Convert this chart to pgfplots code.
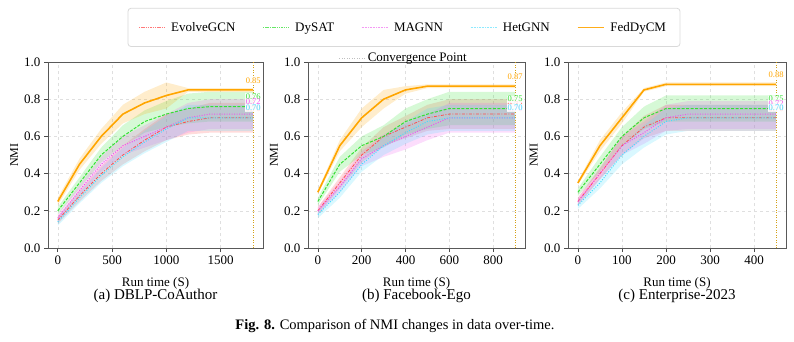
\documentclass[border=0pt]{standalone}
\usepackage{fontspec}
\setmainfont{Liberation Serif}
\usepackage{pgfplots}
\pgfplotsset{compat=1.18}
\usepackage{pgfplotstable}
\usepgfplotslibrary{fillbetween}

\definecolor{cEvo}{HTML}{FF4D4D}
\definecolor{cDys}{HTML}{33E033}
\definecolor{cMag}{HTML}{EE55EE}
\definecolor{cHet}{HTML}{44DDFF}
\definecolor{cFed}{HTML}{FFA500}
\definecolor{cConv}{HTML}{D4A017}

% ---------- Panel (a) ----------
\pgfplotstableread{
x y lo hi
0 0.15 0.13 0.17
200 0.28 0.25 0.31
400 0.40 0.36 0.44
600 0.50 0.45 0.55
800 0.58 0.52 0.64
1000 0.65 0.58 0.72
1200 0.68 0.61 0.75
1400 0.70 0.62 0.78
1600 0.70 0.62 0.78
1800 0.70 0.62 0.78
}\AEvo
\pgfplotstableread{
x y lo hi
0 0.20 0.18 0.22
200 0.35 0.32 0.38
400 0.50 0.46 0.54
600 0.60 0.55 0.66
800 0.68 0.62 0.74
1000 0.72 0.65 0.79
1200 0.75 0.67 0.83
1400 0.76 0.68 0.84
1600 0.76 0.68 0.84
1800 0.76 0.68 0.84
}\ADys
\pgfplotstableread{
x y lo hi
0 0.16 0.14 0.18
200 0.31 0.28 0.34
400 0.45 0.41 0.49
600 0.55 0.50 0.60
800 0.60 0.54 0.66
1000 0.65 0.58 0.72
1200 0.70 0.62 0.78
1400 0.72 0.64 0.80
1600 0.72 0.64 0.80
1800 0.72 0.64 0.80
}\AMag
\pgfplotstableread{
x y lo hi
0 0.14 0.12 0.16
200 0.27 0.24 0.30
400 0.39 0.35 0.43
600 0.49 0.44 0.54
800 0.57 0.51 0.63
1000 0.64 0.57 0.71
1200 0.70 0.63 0.77
1400 0.70 0.63 0.77
1600 0.70 0.63 0.77
1800 0.70 0.63 0.77
}\AHet
\pgfplotstableread{
x y lo hi
0 0.25 0.23 0.27
200 0.45 0.42 0.48
400 0.60 0.56 0.64
600 0.72 0.67 0.77
800 0.78 0.72 0.84
1000 0.82 0.75 0.89
1200 0.85 0.84 0.86
1400 0.85 0.84 0.86
1600 0.85 0.84 0.86
1800 0.85 0.84 0.86
}\AFed

% ---------- Panel (b) ----------
\pgfplotstableread{
x y lo hi
0 0.20 0.18 0.22
100 0.35 0.32 0.38
200 0.50 0.46 0.54
300 0.60 0.55 0.65
400 0.65 0.59 0.71
500 0.70 0.63 0.77
600 0.72 0.64 0.80
700 0.72 0.64 0.80
800 0.72 0.64 0.80
900 0.72 0.64 0.80
}\BEvo
\pgfplotstableread{
x y lo hi
0 0.25 0.23 0.27
100 0.45 0.41 0.49
200 0.55 0.50 0.60
300 0.60 0.54 0.66
400 0.68 0.61 0.75
500 0.72 0.64 0.80
600 0.75 0.66 0.84
700 0.75 0.66 0.84
800 0.75 0.66 0.84
900 0.75 0.66 0.84
}\BDys
\pgfplotstableread{
x y lo hi
0 0.20 0.18 0.22
100 0.33 0.30 0.36
200 0.48 0.44 0.52
300 0.55 0.49 0.61
400 0.60 0.53 0.67
500 0.65 0.58 0.72
600 0.70 0.62 0.78
700 0.70 0.62 0.78
800 0.70 0.62 0.78
900 0.70 0.62 0.78
}\BMag
\pgfplotstableread{
x y lo hi
0 0.18 0.16 0.20
100 0.30 0.27 0.33
200 0.45 0.41 0.49
300 0.55 0.50 0.60
400 0.62 0.56 0.68
500 0.68 0.61 0.75
600 0.70 0.63 0.77
700 0.70 0.63 0.77
800 0.70 0.63 0.77
900 0.70 0.63 0.77
}\BHet
\pgfplotstableread{
x y lo hi
0 0.30 0.29 0.31
100 0.55 0.52 0.58
200 0.70 0.65 0.75
300 0.80 0.75 0.85
400 0.85 0.83 0.87
500 0.87 0.86 0.88
600 0.87 0.86 0.88
700 0.87 0.86 0.88
800 0.87 0.86 0.88
900 0.87 0.86 0.88
}\BFed

% ---------- Panel (c) ----------
\pgfplotstableread{
x y lo hi
0 0.25 0.23 0.27
50 0.40 0.37 0.43
100 0.55 0.50 0.60
150 0.65 0.59 0.71
200 0.70 0.63 0.77
250 0.70 0.63 0.77
300 0.70 0.63 0.77
350 0.70 0.63 0.77
400 0.70 0.63 0.77
450 0.70 0.63 0.77
}\CEvo
\pgfplotstableread{
x y lo hi
0 0.30 0.28 0.32
50 0.45 0.41 0.49
100 0.60 0.55 0.65
150 0.70 0.64 0.76
200 0.75 0.68 0.82
250 0.75 0.68 0.82
300 0.75 0.68 0.82
350 0.75 0.68 0.82
400 0.75 0.68 0.82
450 0.75 0.68 0.82
}\CDys
\pgfplotstableread{
x y lo hi
0 0.25 0.23 0.27
50 0.40 0.37 0.43
100 0.55 0.50 0.60
150 0.62 0.56 0.68
200 0.70 0.63 0.77
250 0.72 0.64 0.79
300 0.72 0.64 0.79
350 0.72 0.64 0.79
400 0.72 0.64 0.79
450 0.72 0.64 0.79
}\CMag
\pgfplotstableread{
x y lo hi
0 0.23 0.21 0.25
50 0.35 0.32 0.38
100 0.50 0.45 0.55
150 0.60 0.54 0.66
200 0.68 0.61 0.75
250 0.70 0.63 0.77
300 0.70 0.63 0.77
350 0.70 0.63 0.77
400 0.70 0.63 0.77
450 0.70 0.63 0.77
}\CHet
\pgfplotstableread{
x y lo hi
0 0.35 0.34 0.36
50 0.55 0.52 0.58
100 0.70 0.67 0.73
150 0.85 0.84 0.86
200 0.88 0.87 0.89
250 0.88 0.87 0.89
300 0.88 0.87 0.89
350 0.88 0.87 0.89
400 0.88 0.87 0.89
450 0.88 0.87 0.89
}\CFed

\newcommand{\band}[2]{%
  \addplot[name path=bu, draw=none, forget plot] table[x=x,y=hi]{#1};
  \addplot[name path=bl, draw=none, forget plot] table[x=x,y=lo]{#1};
  \addplot[fill=#2, fill opacity=0.2, draw=none, forget plot] fill between[of=bu and bl];
}
\newcommand{\vlabel}[4]{% x, y, color, text
  \node[font=\fontsize{8.5}{10}\selectfont, text=#3, fill=white, fill opacity=0.8, text opacity=1, inner sep=0.6pt] at (axis cs:#1,#2) {#4};
}

\tikzset{
  lEvo/.style={draw=cEvo, line width=0.8pt, dash pattern=on 3pt off 1.5pt on 1pt off 1.5pt},
  lDys/.style={draw=cDys, line width=1pt, dash pattern=on 3pt off 1.5pt},
  lMag/.style={draw=cMag, line width=1pt, dash pattern=on 1pt off 1.5pt},
  lHet/.style={draw=cHet, line width=1pt, dash pattern=on 1pt off 1.5pt},
  lFed/.style={draw=cFed, line width=1.6pt},
  lConv/.style={draw=cConv, line width=0.8pt, dash pattern=on 1pt off 1.5pt},
}
% legend samples with the colour written into the code itself
\newcommand{\legimg}[1]{\addlegendimage{legend image code/.code={\draw[#1] (0pt,0pt) -- (26pt,0pt);}}}

\pgfplotsset{
  panel/.style={
    scale only axis, height=186pt, anchor=south west,
    ymin=0, ymax=1, ytick={0,0.2,0.4,0.6,0.8,1.0},
    yticklabel style={/pgf/number format/fixed, /pgf/number format/fixed zerofill, /pgf/number format/precision=1},
    xticklabel style={/pgf/number format/fixed, /pgf/number format/1000 sep={}},
    scaled x ticks=false,
    /pgf/number format/assume math mode=true,
    tick label style={font=\fontsize{13}{15}\selectfont},
    tick align=outside, tick pos=left, major tick length=4pt,
    axis line style={draw=black!65, line width=0.8pt},
    every tick/.style={black!70, line width=0.7pt},
    grid=major, grid style={dashed, gray!25, line width=0.5pt},
    xlabel={Run time (S)}, ylabel={NMI},
    xlabel style={at={(axis description cs:0.5,-0.19)}, anchor=center, font=\fontsize{13}{15}\selectfont},
    ylabel style={at={(axis description cs:-0.157,0.5)}, anchor=center, font=\fontsize{12}{14}\selectfont},
    title style={at={(axis description cs:0.5,-0.29)}, anchor=center, font=\fontsize{15}{17}\selectfont},
  },
}

\begin{document}
\begin{tikzpicture}

% (a)
\begin{axis}[panel, at={(48pt,93pt)}, width=215pt,
  xmin=-90, xmax=1890, xtick={0,500,1000,1500},
  title={(a) DBLP-CoAuthor},
  legend columns=5,
  legend style={at={(axis description cs:1.652,1.185)}, anchor=center,
    draw=none, fill=white,
    font=\fontsize{13}{15}\selectfont, inner xsep=11pt, inner ysep=12pt,
    /tikz/every even column/.append style={column sep=25pt},
    /tikz/every odd column/.append style={column sep=4pt}},
]
\legimg{draw=cEvo, draw opacity=0.75, line width=0.8pt, dash pattern=on 1.5pt off 0.8pt}
\addlegendentry{EvolveGCN}
\legimg{draw=cDys, draw opacity=0.75, line width=0.8pt, dash pattern=on 1.5pt off 0.8pt}
\addlegendentry{DySAT}
\legimg{draw=cMag, draw opacity=0.6, line width=0.8pt, dash pattern=on 0.8pt off 0.8pt}
\addlegendentry{MAGNN}
\legimg{draw=cHet, draw opacity=0.6, line width=0.8pt, dash pattern=on 0.8pt off 0.8pt}
\addlegendentry{HetGNN}
\legimg{draw=cFed, draw opacity=0.9, line width=1.5pt}
\addlegendentry{FedDyCM}
\band{\AEvo}{cEvo}
\addplot[lEvo] table[x=x,y=y]{\AEvo};
\band{\ADys}{cDys}
\addplot[lDys] table[x=x,y=y]{\ADys};
\band{\AMag}{cMag}
\addplot[lMag] table[x=x,y=y]{\AMag};
\band{\AHet}{cHet}
\addplot[lHet] table[x=x,y=y]{\AHet};
\band{\AFed}{cFed}
\addplot[lFed] table[x=x,y=y]{\AFed};
\addplot[lConv] coordinates {(1800,0) (1800,1)};
\vlabel{1800}{0.75}{cEvo}{0.70}
\vlabel{1800}{0.815}{cDys}{0.76}
\vlabel{1800}{0.785}{cMag}{0.72}
\vlabel{1800}{0.755}{cHet}{0.70}
\vlabel{1800}{0.90}{cFed}{0.85}
\end{axis}

% (b)
\begin{axis}[panel, at={(308pt,93pt)}, width=217pt,
  xmin=-45, xmax=945, xtick={0,200,400,600,800},
  title={(b) Facebook-Ego},
  legend style={at={(axis description cs:0.442,1.022)}, anchor=center,
    draw=none, fill=none, font=\fontsize{13}{15}\selectfont, inner sep=1pt},
]
\legimg{draw=gray!50, line width=0.8pt, dash pattern=on 1pt off 1.5pt}
\addlegendentry{Convergence Point}
\band{\BEvo}{cEvo}
\addplot[lEvo] table[x=x,y=y]{\BEvo};
\band{\BDys}{cDys}
\addplot[lDys] table[x=x,y=y]{\BDys};
\band{\BMag}{cMag}
\addplot[lMag] table[x=x,y=y]{\BMag};
\band{\BHet}{cHet}
\addplot[lHet] table[x=x,y=y]{\BHet};
\band{\BFed}{cFed}
\addplot[lFed] table[x=x,y=y]{\BFed};
\addplot[lConv] coordinates {(900,0) (900,1)};
\vlabel{900}{0.77}{cEvo}{0.72}
\vlabel{900}{0.80}{cDys}{0.75}
\vlabel{900}{0.75}{cMag}{0.70}
\vlabel{900}{0.755}{cHet}{0.70}
\vlabel{900}{0.92}{cFed}{0.87}
\end{axis}

% (c)
\begin{axis}[panel, at={(568pt,93pt)}, width=218pt,
  xmin=-22.5, xmax=472.5, xtick={0,100,200,300,400},
  title={(c) Enterprise-2023},
]
\band{\CEvo}{cEvo}
\addplot[lEvo] table[x=x,y=y]{\CEvo};
\band{\CDys}{cDys}
\addplot[lDys] table[x=x,y=y]{\CDys};
\band{\CMag}{cMag}
\addplot[lMag] table[x=x,y=y]{\CMag};
\band{\CHet}{cHet}
\addplot[lHet] table[x=x,y=y]{\CHet};
\band{\CFed}{cFed}
\addplot[lFed] table[x=x,y=y]{\CFed};
\addplot[lConv] coordinates {(450,0) (450,1)};
\vlabel{450}{0.75}{cEvo}{0.70}
\vlabel{450}{0.80}{cDys}{0.75}
\vlabel{450}{0.775}{cMag}{0.72}
\vlabel{450}{0.755}{cHet}{0.70}
\vlabel{450}{0.93}{cFed}{0.88}
\end{axis}

% legend frame
\draw[gray!30, line width=0.8pt, rounded corners=3pt] (128pt,294.5pt) rectangle (680pt,332.7pt);

\node[font=\fontsize{14.5}{16}\selectfont] at (395pt,15pt) {\textbf{Fig. 8.} Comparison of NMI changes in data over-time.};

\pgfresetboundingbox
\useasboundingbox (0,0) rectangle (794pt,341pt);
\end{tikzpicture}
\end{document}
